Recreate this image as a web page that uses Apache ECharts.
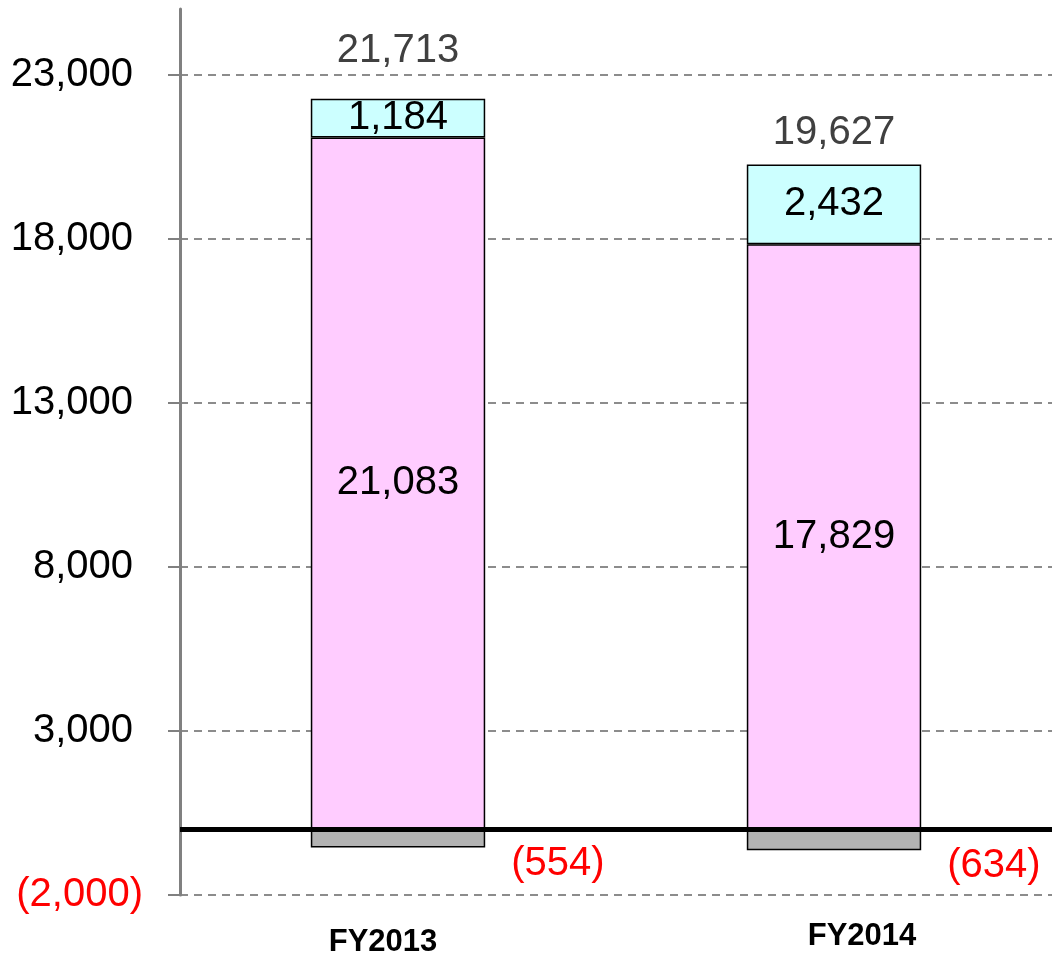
<!DOCTYPE html>
<html>
<head>
<meta charset="utf-8">
<script src="https://cdn.jsdelivr.net/npm/echarts@6/dist/echarts.min.js"></script>
<style>
  html, body { margin: 0; padding: 0; background: #fff; }
  #chart { width: 1052px; height: 953px; }
</style>
</head>
<body>
<div id="chart"></div>
<script>
// data
const years = ['FY2013', 'FY2014'];
const mainValues = [21083, 17829];   // pink
const extraValues = [1184, 2432];    // cyan
const lossValues = [-554, -634];     // grey
const yTicks = [-2000, 3000, 8000, 13000, 18000, 23000];

const fmt = v => Math.abs(v).toLocaleString('en-US');
const fontFamily = '"Liberation Sans", Arial, sans-serif';

const chart = echarts.init(document.getElementById('chart'));

// small per-bar tweaks for the label placement
const totalDist = [28, 12];
const yearPad = [[6, 30, 0, 0], [0, 0, 0, 56]];

const option = {
  animation: false,
  grid: { left: 180, right: 0, top: 9, bottom: 58, outerBoundsMode: 'none' },
  xAxis: {
    type: 'category',
    data: years.map((y, i) => ({ value: y, textStyle: { padding: yearPad[i] } })),
    axisLine: { show: false },
    axisTick: { show: false },
    axisLabel: {
      margin: 26,
      fontSize: 31,
      fontWeight: 'bold',
      color: '#000',
      fontFamily
    }
  },
  yAxis: {
    type: 'value',
    min: yTicks[0],
    max: 25000,
    interval: yTicks[1] - yTicks[0],
    axisLine: { show: true, lineStyle: { color: '#808080', width: 3 } },
    axisTick: { show: true, length: 12, lineStyle: { color: '#808080', width: 2 } },
    axisLabel: {
      margin: 37,
      fontSize: 40,
      fontFamily,
      showMaxLabel: false,
      formatter: v => (v < 0 ? '{n|(' + fmt(v) + ')}' : '{p|' + fmt(v) + '}'),
      rich: {
        p: { fontSize: 40, fontFamily, color: '#000', padding: [0, 10, 0, 0] },
        n: { fontSize: 40, fontFamily, color: '#ff0000' }
      }
    },
    splitLine: {
      show: true,
      showMaxLine: false,
      lineStyle: { color: '#8c8c8c', width: 2, type: [8, 6] }
    }
  },
  series: [
    {
      name: 'main',
      type: 'bar',
      stack: 'total',
      barWidth: '40%',
      data: mainValues,
      itemStyle: { color: '#ffccff', borderColor: '#000', borderWidth: 1.5 },
      label: {
        show: true,
        position: 'inside',
        fontSize: 40,
        fontFamily,
        color: '#000',
        formatter: p => fmt(p.value)
      },
      markLine: {
        silent: true,
        symbol: 'none',
        label: { show: false },
        lineStyle: { color: '#000', width: 5, type: 'solid' },
        data: [{ yAxis: 0 }]
      }
    },
    {
      name: 'extra',
      type: 'bar',
      stack: 'total',
      data: extraValues,
      itemStyle: { color: '#ccffff', borderColor: '#000', borderWidth: 1.5 },
      label: {
        show: true,
        position: 'inside',
        fontSize: 40,
        fontFamily,
        color: '#000',
        formatter: p => fmt(p.value)
      }
    },
    {
      name: 'extraTotal',
      type: 'bar',
      stack: 'total',
      data: extraValues.map((v, i) => ({
        value: 0,
        label: { distance: totalDist[i] }
      })),
      itemStyle: { color: 'transparent' },
      label: {
        show: true,
        position: 'top',
        fontSize: 40,
        fontFamily,
        color: '#404040',
        formatter: p => fmt(mainValues[p.dataIndex] + extraValues[p.dataIndex] + lossValues[p.dataIndex])
      }
    },
    {
      name: 'loss',
      type: 'bar',
      stack: 'total',
      data: lossValues,
      itemStyle: { color: '#b3b3b3', borderColor: '#000', borderWidth: 1.5 },
      label: {
        show: true,
        position: 'right',
        distance: 26,
        offset: [0, 26],
        fontSize: 40,
        fontFamily,
        color: '#ff0000',
        formatter: p => '(' + fmt(p.value) + ')'
      }
    }
  ]
};

chart.setOption(option);
window.addEventListener('resize', () => chart.resize());
</script>
</body>
</html>
